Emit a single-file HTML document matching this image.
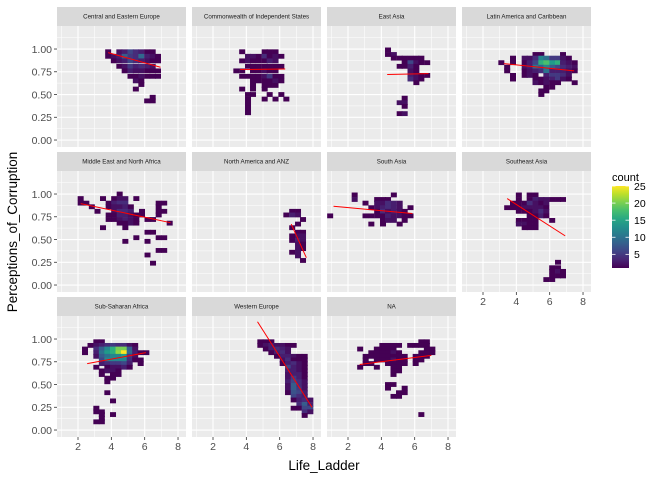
<!DOCTYPE html>
<html><head><meta charset="utf-8">
<style>
html,body{margin:0;padding:0;background:#fff;}
svg{display:block;font-family:"Liberation Sans",sans-serif;}
</style></head>
<body>
<svg id="chart" width="672" height="480" viewBox="0 0 672 480"></svg>
<script>
// ---- data ----
const panelTitles = ["Central and Eastern Europe","Commonwealth of Independent States","East Asia","Latin America and Caribbean",
"Middle East and North Africa","North America and ANZ","South Asia","Southeast Asia",
"Sub-Saharan Africa","Western Europe","NA"];
const xTicks = [2,4,6,8];
const yTicks = [0,0.25,0.5,0.75,1.0];
const yTickLabels = ["0.00","0.25","0.50","0.75","1.00"];
const legendTicks = [5,10,15,20,25];
// rows: [y, [x,count, x,count, ...]]
const cellsCEE = [[0.97,[3.81,1,4.48,2,4.8,3,5.15,6,5.47,4,5.8,3,6.15,1,6.48,1]],[0.92,[3.81,1,4.15,2,4.48,3,4.8,8,5.15,5,5.47,4,5.8,9,6.15,3,6.48,2,6.8,1]],[0.87,[4.15,1,4.48,2,4.8,3,5.15,6,5.47,4,5.8,3,6.15,2,6.48,1,6.8,1]],[0.81,[4.48,1,4.8,2,5.15,5,5.47,3,5.8,4,6.15,3,6.48,2]],[0.76,[4.8,1,5.15,3,5.47,2,5.8,2,6.15,1,6.48,1,6.8,1]],[0.70,[5.15,1,5.47,1,5.8,2,6.15,1,6.48,1,6.8,1]],[0.65,[5.47,2,5.8,1]],[0.61,[5.8,1]],[0.56,[5.47,1]],[0.47,[6.48,1]],[0.43,[6.15,1,6.48,1]]];
const cellsCIS = [[0.97,[3.75,1,5.1,1,5.4,1,5.75,1]],[0.92,[4.1,2,4.4,2,4.75,1,5.1,4,5.4,1,5.75,2,6.1,1]],[0.87,[3.75,1,4.1,2,4.4,1,4.75,1,5.1,1,5.4,3,5.75,2]],[0.81,[4.1,1,4.4,1,4.75,1,5.1,1,5.4,1,5.75,1,6.1,1]],[0.76,[3.4,1,3.75,1,4.4,1,4.75,1,5.1,2,5.4,1,5.75,1]],[0.70,[3.75,1,4.1,1,4.4,1,4.75,1,5.1,2,5.4,5,5.75,1,6.1,1]],[0.65,[4.4,1,4.75,1,5.1,1,5.4,1,5.75,2,6.1,1]],[0.60,[4.4,1,5.1,1,5.4,1,5.75,1]],[0.56,[3.75,1,4.4,1,5.1,1]],[0.50,[4.1,1,4.4,1,5.4,1,6.1,1]],[0.45,[4.1,1,5.1,1,5.75,1,6.4,1]],[0.40,[4.1,1]],[0.35,[4.1,1]],[0.30,[4.1,1]]];
const cellsEA = [[0.99,[4.4,1]],[0.94,[4.4,1,4.75,2]],[0.90,[4.75,1,5.1,1,5.4,1,5.75,1,6.1,1,6.4,1]],[0.85,[5.4,1,5.75,6,6.1,2,6.4,1,6.75,1]],[0.81,[5.1,1,5.4,1,5.75,3,6.1,1]],[0.76,[5.75,2,6.1,1]],[0.71,[5.75,3,6.1,2,6.4,1,6.75,1]],[0.67,[5.75,4,6.1,2,6.4,1]],[0.63,[6.1,1]],[0.46,[5.4,1]],[0.41,[5.1,2,5.4,2]],[0.37,[5.4,1]],[0.29,[5.1,1,5.4,2]]];
const cellsLA = [[0.94,[5.15,1,5.5,1,6.8,1]],[0.90,[3.8,1,4.5,2,4.8,2,5.15,4,5.5,12,5.8,10,6.15,5,6.5,5,6.8,2,7.15,1]],[0.85,[3.1,1,3.8,1,4.5,1,4.8,3,5.15,6,5.5,16,5.8,18,6.15,14,6.5,16,6.8,3,7.15,2,7.5,1]],[0.80,[3.45,1,4.5,2,4.8,3,5.15,10,5.5,8,5.8,12,6.15,8,6.5,6,6.8,4,7.15,3,7.5,2]],[0.76,[3.45,1,4.5,1,4.8,2,5.15,3,5.5,4,5.8,10,6.15,3,6.5,3,6.8,3,7.15,2,7.5,1]],[0.71,[3.8,1,4.5,1,4.8,2,5.15,1,5.8,3,6.15,5,6.5,5,6.8,4,7.15,2]],[0.67,[3.8,1,5.15,1,5.5,1,5.8,2,6.15,3,6.5,5,6.8,2,7.15,1]],[0.63,[5.15,2,5.5,1,5.8,2,6.15,1,6.5,1,7.5,1]],[0.58,[5.8,1,6.15,1]],[0.54,[5.5,1,5.8,1]],[0.50,[5.5,1]]];
const cellsMENA = [[1.00,[4.5,1]],[0.95,[2.16,1,3.5,1,4.17,1,4.5,2,4.84,2,5.5,1]],[0.90,[2.16,1,2.5,1,3.84,1,4.17,3,4.5,4,4.84,4,6.84,1,7.17,1]],[0.86,[2.83,1,3.84,1,4.17,2,4.5,2,4.84,3,5.17,1,6.84,1]],[0.81,[3.17,1,4.17,2,4.5,4,4.84,4,5.17,3,5.84,1,6.84,1,7.17,1]],[0.77,[3.84,1,4.17,1,4.5,3,4.84,3,5.17,2,5.5,1,5.84,1,6.84,1]],[0.72,[3.84,1,4.17,1,4.5,2,4.84,3,5.17,2,5.5,1,6.17,1,6.5,1]],[0.68,[4.5,1,4.84,1,5.17,2,5.5,1,7.5,1]],[0.63,[3.5,1,4.84,1]],[0.58,[6.17,1,6.5,1]],[0.52,[5.5,1,6.84,1,7.17,1]],[0.48,[4.84,1,6.17,1]],[0.38,[6.84,1,7.17,1]],[0.33,[6.17,1]],[0.24,[6.5,1]]];
const cellsNAANZ = [[0.81,[6.75,1,7.1,1]],[0.77,[6.4,1,6.75,3,7.1,2]],[0.72,[7.4,1]],[0.67,[7.1,1]],[0.63,[6.75,1]],[0.58,[7.1,1,7.4,1]],[0.54,[6.75,1,7.1,2,7.4,2]],[0.49,[6.75,1,7.1,3,7.4,2]],[0.45,[7.1,2,7.4,1]],[0.40,[7.1,2,7.4,1]],[0.36,[6.75,1,7.1,2]],[0.32,[7.1,2]],[0.27,[7.4,1]]];
const cellsSA = [[0.99,[2.4,1,4.75,1]],[0.94,[2.4,2,3.75,1,4.1,1,4.4,1]],[0.90,[3.05,1,3.75,2,4.1,2,4.4,4,4.75,3,5.1,2]],[0.85,[3.4,1,3.75,2,4.1,3,4.4,4,4.75,3,5.1,2,5.75,1]],[0.81,[3.75,1,4.1,4,4.4,2,4.75,3,5.1,2,5.4,1]],[0.76,[0.93,1,3.05,1,3.4,1,3.75,1,4.1,1,4.4,3,4.75,2,5.1,2,5.4,1,5.75,1]],[0.71,[4.1,1,4.4,2,4.75,2,5.4,1]],[0.67,[3.4,1,4.1,1,5.1,1]]];
const cellsSEA = [[0.99,[4.15,1,4.8,1,5.15,1]],[0.94,[4.15,1,4.8,1,5.15,3,5.5,2,5.8,2,6.15,1,6.5,1,6.8,1]],[0.90,[3.8,1,4.15,1,4.5,1,4.8,4,5.15,2,5.5,1,5.8,2]],[0.85,[3.45,1,3.8,1,4.15,1,4.5,2,4.8,2,5.15,2,5.5,2,5.8,1]],[0.81,[4.15,1,4.5,1,4.8,1,5.15,2,5.5,4,5.8,2]],[0.76,[4.8,1,5.15,1,5.5,3,5.8,1]],[0.71,[4.15,1,4.5,1,4.8,1,5.15,1,6.15,1]],[0.67,[4.15,2,4.5,2,4.8,1,5.15,1]],[0.63,[4.5,1,4.8,1,5.15,1]],[0.25,[6.5,1]],[0.19,[6.15,1,6.5,1]],[0.15,[6.15,1,6.5,2,6.8,1]],[0.10,[6.15,1,6.5,1,6.8,1]],[0.06,[5.8,1,6.15,1]]];
const cellsSSA = [[0.97,[3.1,1,3.43,1]],[0.93,[2.75,1,3.1,2,3.43,3,3.76,4,4.1,5,4.43,4,4.76,4,5.1,2,5.43,1]],[0.89,[2.42,1,3.1,4,3.43,8,3.76,12,4.1,16,4.43,20,4.76,20,5.1,8,5.43,2]],[0.85,[2.42,1,3.1,3,3.43,10,3.76,14,4.1,16,4.43,21,4.76,25,5.1,9,5.43,3,5.76,1,6.1,1]],[0.81,[3.1,2,3.43,8,3.76,10,4.1,12,4.43,12,4.76,14,5.1,5,5.43,2]],[0.77,[3.43,6,3.76,12,4.1,12,4.43,12,4.76,12,5.1,4,5.43,1,5.76,1]],[0.73,[3.43,3,3.76,4,4.1,5,4.43,5,4.76,6,5.1,3,5.76,1]],[0.69,[3.1,1,3.76,1,4.1,2,4.43,2,4.76,3,5.1,1]],[0.65,[3.43,1,3.76,2,4.1,2,4.43,1]],[0.61,[3.43,1,4.1,1,4.43,1]],[0.57,[3.76,1,4.1,1]],[0.53,[3.76,1]],[0.41,[3.76,1]],[0.32,[4.1,1]],[0.24,[3.1,1]],[0.20,[3.1,1,3.43,1]],[0.17,[3.43,1,4.1,1]],[0.13,[3.43,1]],[0.09,[3.1,1,3.43,1]]];
const cellsWE = [[0.97,[4.84,1,5.17,1,5.5,1]],[0.93,[4.84,1,5.17,2,5.5,3,5.84,2,6.18,2,6.5,1,6.84,1]],[0.89,[5.17,1,5.5,3,5.84,4,6.18,3,6.5,2]],[0.85,[5.5,1,5.84,3,6.18,4,6.5,2]],[0.81,[5.84,1,6.18,3,6.5,3,6.84,2,7.18,1,7.5,1]],[0.77,[6.18,2,6.5,4,6.84,1,7.18,1,7.5,1]],[0.73,[6.18,1,6.5,3,6.84,4,7.18,2,7.5,1]],[0.69,[6.5,6,6.84,3,7.18,2,7.5,1]],[0.65,[6.5,3,6.84,3,7.18,2,7.5,1]],[0.61,[6.5,2,6.84,3,7.18,3,7.5,1]],[0.57,[6.5,2,6.84,5,7.18,3,7.5,1]],[0.53,[6.5,3,6.84,6,7.18,4,7.5,2]],[0.49,[6.5,2,6.84,8,7.18,4,7.5,2]],[0.45,[6.5,2,6.84,8,7.18,5,7.5,2]],[0.41,[6.5,1,6.84,7,7.18,6,7.5,3]],[0.37,[6.84,6,7.18,4,7.5,3]],[0.33,[6.84,1,7.18,3,7.5,4,7.84,2]],[0.28,[7.18,4,7.5,8,7.84,3]],[0.24,[6.84,1,7.18,1,7.5,6,7.84,6]],[0.20,[7.5,4,7.84,2]],[0.16,[7.5,1]]];
const cellsNA = [[0.97,[6.4,1,6.73,1]],[0.93,[4.06,1,4.4,1,4.73,1,5.06,1,5.73,1,6.06,1,6.4,1,6.73,1]],[0.89,[2.73,1,3.73,1,4.06,1,4.4,1,4.73,1,6.73,1,7.06,1]],[0.85,[3.4,1,3.73,1,4.06,1,4.4,1,4.73,2,5.06,1,6.4,1,6.73,1,7.06,1]],[0.81,[3.06,1,3.4,1,3.73,1,4.06,1,4.4,1,4.73,1,5.06,1,5.4,1,6.06,1,6.4,1,6.73,1]],[0.77,[3.06,1,3.73,1,4.06,1,4.4,1,4.73,2,5.06,1,5.4,1,6.06,1,6.4,1]],[0.73,[3.06,1,3.4,1,4.4,1,4.73,1,5.06,1,5.4,1,6.06,1]],[0.69,[2.73,1,3.73,1,4.73,1,5.06,1]],[0.65,[4.73,1,5.06,1]],[0.61,[4.73,1]],[0.50,[4.4,1,4.73,1]],[0.46,[4.4,1,5.4,1]],[0.41,[5.06,1,5.4,1]],[0.37,[4.73,1,5.06,1]],[0.17,[6.4,1]]];
const panelCells = [cellsCEE,cellsCIS,cellsEA,cellsLA,cellsMENA,cellsNAANZ,cellsSA,cellsSEA,cellsSSA,cellsWE,cellsNA];
// trend lines: [x1,y1,x2,y2]
const trendLines = [[3.81,0.96,6.95,0.80],[3.63,0.775,6.33,0.78],[4.35,0.72,6.83,0.73],[3.25,0.84,7.47,0.76],[2.16,0.895,7.55,0.685],[6.69,0.67,7.6,0.30],[1.13,0.866,5.86,0.786],[3.45,0.95,6.93,0.54],[2.55,0.73,6.07,0.85],[4.67,1.19,7.94,0.25],[2.7,0.72,7.0,0.82]];

// ---- rendering ----
const NS="http://www.w3.org/2000/svg";
const svg=document.getElementById('chart');
function mk(tag,attrs,parent){const e=document.createElementNS(NS,tag);for(const k in attrs)e.setAttribute(k,attrs[k]);(parent||svg).appendChild(e);return e;}
const PW=129, PH=121, XMIN=0.74, XSCALE=16.67, YMAX=1.253, YSCALE=91;
const lefts=[57,192,327,462], tops=[26,171,316];
const vir=[[68,1,84],[72,40,120],[62,74,137],[49,104,142],[38,130,142],[31,158,137],[53,183,121],[109,205,89],[180,222,44],[253,231,37]];
function viridis(t){t=Math.max(0,Math.min(1,t));const p=t*(vir.length-1);const i=Math.min(vir.length-2,Math.floor(p));const f=p-i;const a=vir[i],b=vir[i+1];return `rgb(${Math.round(a[0]+(b[0]-a[0])*f)},${Math.round(a[1]+(b[1]-a[1])*f)},${Math.round(a[2]+(b[2]-a[2])*f)})`;}
const CMIN=1, CMAX=25;
const CW=0.36, CH=0.053;

panelTitles.forEach((title,pi)=>{
  const col=pi%4,row=Math.floor(pi/4);
  const L=lefts[col],T=tops[row];
  const sx=v=>L+(v-XMIN)*XSCALE, sy=v=>T+(YMAX-v)*YSCALE;
  const g=mk('g',{});
  
  
  const strip=mk('rect',{x:L,y:T-19,width:PW,height:19,fill:'#d9d9d9'},g);
  
  
  const st=mk('text',{x:L+PW/2,y:T-7.5,'text-anchor':'middle','font-size':'6.2',fill:'#1a1a1a'},g);
  st.textContent=title;
  
  
  const bg=mk('rect',{x:L,y:T,width:PW,height:PH,fill:'#ebebeb'},g);
  
  
  for(let v=1;v<=8;v++){mk('line',{x1:sx(v),x2:sx(v),y1:T,y2:T+PH,stroke:'#fff','stroke-width':v%2==0?1.1:0.55},g);}
  for(let k=0;k<=9;k++){const v=k*0.125;const yy=sy(v);if(yy<T||yy>T+PH)continue;mk('line',{x1:L,x2:L+PW,y1:yy,y2:yy,stroke:'#fff','stroke-width':k%2==0?1.1:0.55},g);}
  panelCells[pi].forEach(r=>{
    const y=r[0],arr=r[1];
    for(let j=0;j<arr.length;j+=2){
      const x=arr[j],c=arr[j+1];
      const rc=mk('rect',{x:sx(x-CW/2),y:sy(y+CH/2),width:CW*XSCALE,height:CH*YSCALE,fill:viridis((c-CMIN)/(CMAX-CMIN))},g);
      
      
    }
  });
  const t=trendLines[pi];
  const ln=mk('line',{x1:sx(t[0]),y1:sy(t[1]),x2:sx(t[2]),y2:sy(t[3]),stroke:'#ff0000','stroke-width':1},g);
  
  
  if(col===0){
    yTicks.forEach((v,i)=>{
      mk('line',{x1:L-3,x2:L,y1:sy(v),y2:sy(v),stroke:'#333','stroke-width':0.8},g);
      const tl=mk('text',{x:L-5,y:sy(v)+3.8,'text-anchor':'end','font-size':'10.5',fill:'#4d4d4d'},g);
      tl.textContent=yTickLabels[i];
      
      
    });
  }
  if(row===2||pi===7){
    xTicks.forEach(v=>{
      mk('line',{x1:sx(v),x2:sx(v),y1:T+PH,y2:T+PH+3,stroke:'#333','stroke-width':0.8},g);
      const tl=mk('text',{x:sx(v),y:T+PH+13,'text-anchor':'middle','font-size':'10.5',fill:'#4d4d4d'},g);
      tl.textContent=v;
      
      
    });
  }
});
// axis titles
const xt=mk('text',{x:324,y:470,'text-anchor':'middle','font-size':'13.5',fill:'#000'});
xt.textContent='Life_Ladder';


const yt=mk('text',{x:0,y:0,'text-anchor':'middle','font-size':'13.5',fill:'#000',transform:'translate(17,232) rotate(-90)'});
yt.textContent='Perceptions_of_Corruption';


// legend
const lg=mk('g',{});


const lt=mk('text',{x:612,y:181,'font-size':'11',fill:'#000'},lg);
lt.textContent='count';


const defs=mk('defs',{},lg);
const grad=mk('linearGradient',{id:'vg',x1:0,y1:1,x2:0,y2:0},defs);
for(let i=0;i<=10;i++){mk('stop',{offset:i/10,'stop-color':viridis(i/10)},grad);}
const LB_TOP=186, LB_BOT=268;
const ly=v=>LB_BOT-(v-CMIN)/(CMAX-CMIN)*(LB_BOT-LB_TOP);
const bar=mk('rect',{x:612,y:LB_TOP,width:17,height:LB_BOT-LB_TOP,fill:'url(#vg)'},lg);


legendTicks.forEach(v=>{
  mk('line',{x1:612,x2:615.5,y1:ly(v),y2:ly(v),stroke:'#fff','stroke-width':0.8},lg);
  mk('line',{x1:625.5,x2:629,y1:ly(v),y2:ly(v),stroke:'#fff','stroke-width':0.8},lg);
  const tl=mk('text',{x:634,y:ly(v)+3.8,'font-size':'10.5',fill:'#000'},lg);
  tl.textContent=v;
  
  
});
</script>
</body></html>
